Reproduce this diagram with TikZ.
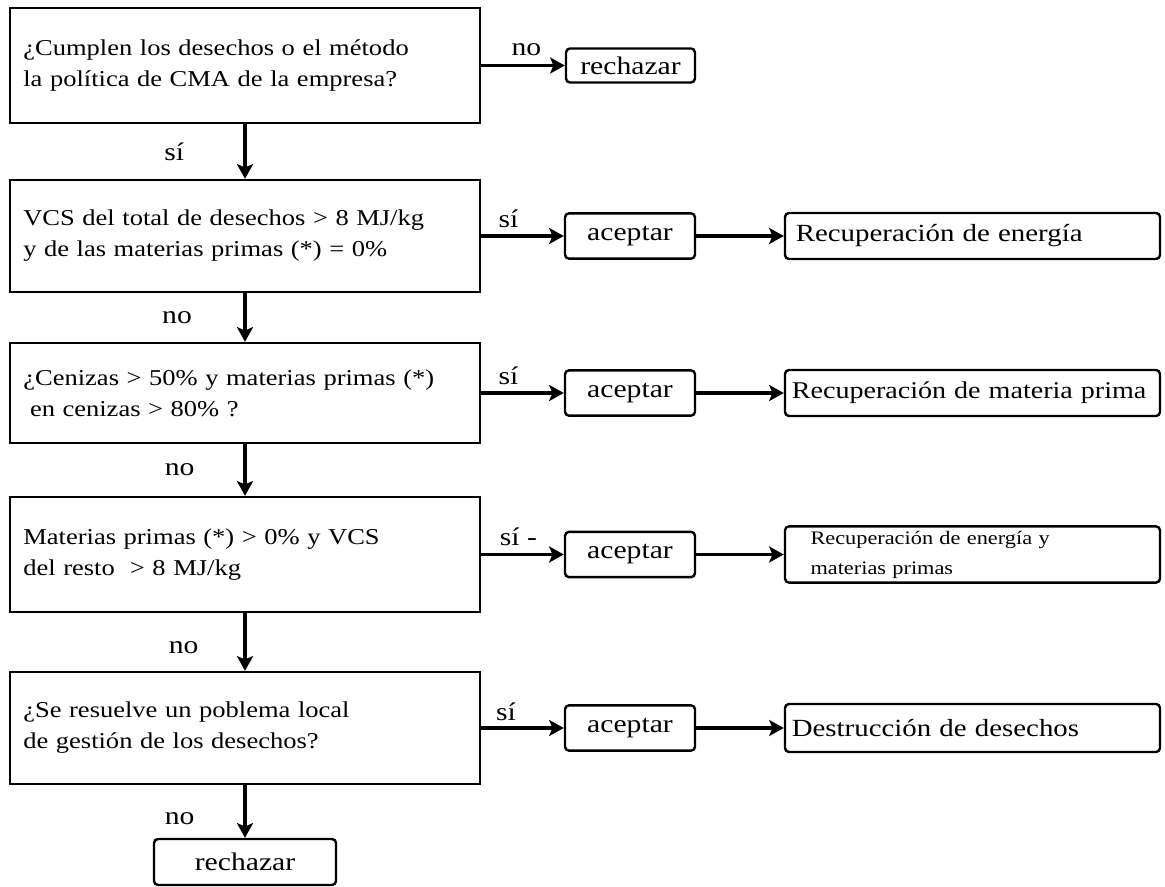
\documentclass[tikz,border=0pt]{standalone}
\usepackage{fontspec}
\setmainfont{Liberation Serif}[FakeStretch=1.17]
\usetikzlibrary{arrows.meta}

\begin{document}
\begin{tikzpicture}[x=0.75pt,y=-0.75pt,
    pregunta/.style={draw,line width=1.8pt,minimum width=352.5pt,text width=332.5pt,inner xsep=10pt,align=left,font=\fontsize{17}{23.25}\selectfont},
    paso/.style={draw,line width=1.8pt,rounded corners=3pt,minimum width=97.5pt,minimum height=34pt,font=\fontsize{19}{23}\selectfont},
    destino/.style={draw,line width=1.8pt,rounded corners=3pt,minimum width=281.25pt,minimum height=34.5pt,text width=271pt,inner xsep=5pt,align=left,font=\fontsize{18.5}{23}\selectfont},
    flecha/.style={line width=2.5pt,-{Stealth[length=11pt,width=12pt,inset=2.5pt]}},
    etiq/.style={font=\fontsize{19}{23}\selectfont,inner sep=1pt}]
    \useasboundingbox (0,0) rectangle (1165,887);
    \node[pregunta,minimum height=86.25pt] (p1) at (245,65.5) {¿Cumplen los desechos o el método\\la política de CMA de la empresa?};
    \node[pregunta,minimum height=84pt] (p2) at (245,236) {VCS del total de desechos > 8 MJ/kg\\y de las materias primas (*) = 0\%};
    \node[pregunta,minimum height=75pt] (p3) at (245,393) {¿Cenizas > 50\% y materias primas (*)\\\hspace*{5pt}en cenizas > 80\% ?};
    \node[pregunta,minimum height=86.25pt] (p4) at (245,554.5) {Materias primas (*) > 0\% y VCS\\del resto~~> 8 MJ/kg};
    \node[pregunta,minimum height=84pt] (p5) at (245,728) {¿Se resuelve un poblema local\\de gestión de los desechos?};
    \node[paso,minimum width=96.75pt,minimum height=25.5pt] (r1) at (630.5,65.5) {rechazar};
    \node[paso] (a2) at (630,236) {aceptar};
    \node[paso] (a3) at (630,393) {aceptar};
    \node[paso] (a4) at (630,554.5) {aceptar};
    \node[paso] (a5) at (630,728) {aceptar};
    \node[destino] (d2) at (972.5,236) {\hspace*{3pt}Recuperación de energía};
    \node[destino,font=\fontsize{18}{23}\selectfont] (d3) at (972.5,393) {\mbox{Recuperación de materia prima}};
    \node[destino,font=\fontsize{14.3}{22.5}\selectfont] (d4) at (972.5,554.5) {\hspace*{14pt}Recuperación de energía y\\\hspace*{14pt}materias primas};
    \node[destino,minimum height=36pt] (d5) at (972.5,728) {Destrucción de desechos};
    \node[paso,minimum width=136.5pt,minimum height=34.5pt] (r2) at (245,862) {rechazar};
    \draw[flecha] (p1) -- node[etiq,pos=0.54,yshift=12pt] (e1) {no} (r1);
    \draw[flecha] (p1) -- node[etiq,midway,xshift=-53pt] (e2) {sí} (p2);
    \draw[flecha] (p2) -- node[etiq,pos=0.33,yshift=13pt] (e3) {sí} (a2);
    \draw[flecha] (a2) -- (d2);
    \draw[flecha] (p2) -- node[etiq,midway,xshift=-51pt] (e4) {no} (p3);
    \draw[flecha] (p3) -- node[etiq,pos=0.33,yshift=13pt] (e5) {sí} (a3);
    \draw[flecha] (a3) -- (d3);
    \draw[flecha] (p3) -- node[etiq,midway,xshift=-49pt] (e6) {no} (p4);
    \draw[flecha] (p4) -- node[etiq,pos=0.45,yshift=13pt] (e7) {sí -} (a4);
    \draw[flecha] (a4) -- (d4);
    \draw[flecha] (p4) -- node[etiq,midway,xshift=-46pt,yshift=-4pt] (e8) {no} (p5);
    \draw[flecha] (p5) -- node[etiq,pos=0.3,yshift=12pt] (e9) {sí} (a5);
    \draw[flecha] (a5) -- (d5);
    \draw[flecha] (p5) -- node[etiq,midway,xshift=-49pt,yshift=-5pt] (e10) {no} (r2);
\end{tikzpicture}
\end{document}
